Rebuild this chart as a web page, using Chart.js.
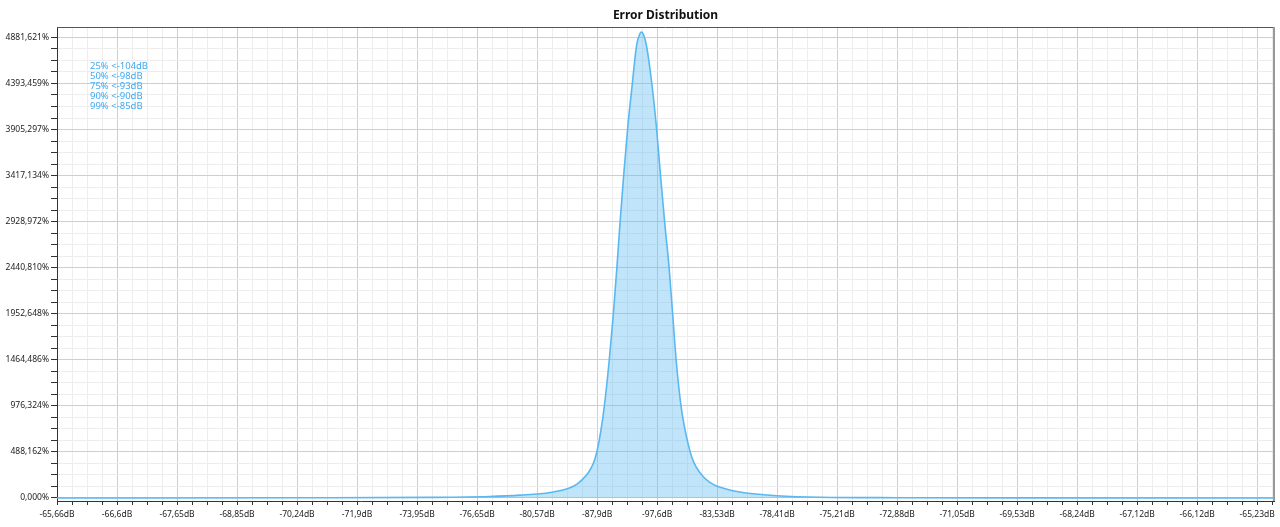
<!DOCTYPE html>
<html>
<head>
<meta charset="utf-8">
<title>Error Distribution</title>
<script src="https://cdn.jsdelivr.net/npm/chart.js@4.4.1/dist/chart.umd.min.js"></script>
<style>
  html, body { margin: 0; padding: 0; background: #fff; }
  #wrap { width: 1280px; height: 527px; position: relative; }
</style>
</head>
<body>
<div id="wrap"><canvas id="errChart"></canvas></div>
<script>
// chart text
const chartTitle = "Error Distribution";
const statLines = ["25% <-104dB", "50% <-98dB", "75% <-93dB", "90% <-90dB", "99% <-85dB"];

// x axis labels, one per major grid line (left to right)
const xTickLabels = [
  "-65,66dB", "-66,6dB", "-67,65dB", "-68,85dB", "-70,24dB", "-71,9dB",
  "-73,95dB", "-76,65dB", "-80,57dB", "-87,9dB", "-97,6dB", "-83,53dB",
  "-78,41dB", "-75,21dB", "-72,88dB", "-71,05dB", "-69,53dB", "-68,24dB",
  "-67,12dB", "-66,12dB", "-65,23dB",
];
// y axis labels, bottom to top
const yTickLabels = [
  "0,000%", "488,162%", "976,324%", "1464,486%", "1952,648%", "2440,810%",
  "2928,972%", "3417,134%", "3905,297%", "4393,459%", "4881,621%",
];

// curve: position in x-label units, value in %
const xPos = [
  0, 4, 6.22, 7.2, 7.72, 8.22, 8.55, 8.67, 8.76, 8.85, 8.94, 9.0, 9.06,
  9.12, 9.2, 9.27, 9.33, 9.38, 9.44, 9.51, 9.58, 9.66, 9.7, 9.74, 9.78,
  9.82, 9.9, 9.99, 10.06, 10.13, 10.2, 10.26, 10.32, 10.4, 10.46, 10.52,
  10.58, 10.65, 10.77, 10.88, 10.99, 11.15, 11.33, 11.6, 11.99, 12.72,
  14, 16, 20.28,
];
const errPct = [
  0, 2, 6, 15, 30, 58, 108, 150, 200, 265, 370, 500, 700,
  968, 1444, 1943, 2441, 2896, 3395, 3924, 4348, 4804, 4900, 4939, 4900,
  4804, 4454, 3924, 3395, 2896, 2441, 1943, 1444, 968, 740, 565,
  430, 330, 225, 165, 128, 95, 68, 44, 24, 8,
  3, 1, 0,
];

const fontFam = "'Noto Sans', 'Open Sans', sans-serif";
const lineBlue = "#5ab8f0";

// major y values come from the labels, 3 minor lines between each
const yMajor = yTickLabels.map((s) => parseFloat(s.replace(",", ".")));

const isMajor = (ctx) => ctx.index % 4 === 0;

// title, stats text and the top/right frame
const overlay = {
  id: "overlay",
  afterDraw(chart) {
    const { ctx, chartArea: a } = chart;
    ctx.save();
    ctx.strokeStyle = "#555";
    ctx.lineWidth = 1;
    ctx.beginPath();
    ctx.moveTo(a.left, a.top + 0.5);
    ctx.lineTo(a.right, a.top + 0.5);
    ctx.stroke();
    ctx.strokeStyle = "#999";
    ctx.lineWidth = 2;
    ctx.beginPath();
    ctx.moveTo(a.right, a.top);
    ctx.lineTo(a.right, a.bottom);
    ctx.stroke();

    ctx.fillStyle = "#111";
    ctx.font = "bold 12px " + fontFam;
    ctx.textAlign = "center";
    ctx.textBaseline = "middle";
    ctx.fillText(chartTitle, (a.left + a.right) / 2, 16);

    ctx.fillStyle = "#3fa9f0";
    ctx.font = "9.5px " + fontFam;
    ctx.textAlign = "left";
    statLines.forEach((t, i) => ctx.fillText(t, 90, 66 + i * 10));
    ctx.restore();
  },
};

new Chart(document.getElementById("errChart"), {
  type: "line",
  data: {
    datasets: [
      {
        data: xPos.map((x, i) => ({ x: x, y: errPct[i] })),
        borderColor: lineBlue,
        backgroundColor: "rgba(90, 184, 240, 0.38)",
        borderWidth: 1.6,
        fill: "origin",
        pointRadius: 0,
        cubicInterpolationMode: "monotone",
      },
    ],
  },
  options: {
    responsive: true,
    maintainAspectRatio: false,
    animation: false,
    layout: { padding: { top: 27, right: 6, left: 0, bottom: 0 } },
    plugins: {
      legend: { display: false },
      title: { display: false },
      tooltip: { enabled: false },
    },
    scales: {
      x: {
        type: "linear",
        min: 0,
        max: 20.28,
        afterBuildTicks: (scale) => {
          const t = [];
          for (let i = 0; i <= 81; i++) t.push({ value: i * 0.25 });
          scale.ticks = t;
        },
        afterFit: (scale) => {
          scale.height = 26;
        },
        border: { color: "#333", width: 1 },
        grid: {
          color: (ctx) => (isMajor(ctx) ? "#cfcfcf" : "#ededed"),
          tickColor: "#333",
          tickLength: 4,
        },
        ticks: {
          autoSkip: false,
          maxRotation: 0,
          padding: 4,
          color: "#222",
          font: { family: fontFam, size: 8.5 },
          callback: (v, i) => (i % 4 === 0 ? xTickLabels[i / 4] : ""),
        },
      },
      y: {
        min: -32,
        max: 4992,
        afterBuildTicks: (scale) => {
          const t = [];
          for (let k = 0; k < yMajor.length; k++) {
            t.push({ value: yMajor[k] });
            if (k < yMajor.length - 1) {
              const d = (yMajor[k + 1] - yMajor[k]) / 4;
              for (let m = 1; m < 4; m++) t.push({ value: yMajor[k] + d * m });
            }
          }
          scale.ticks = t;
        },
        afterFit: (scale) => {
          scale.width = 57;
        },
        border: { color: "#333", width: 1 },
        grid: {
          color: (ctx) => (isMajor(ctx) ? "#cfcfcf" : "#ededed"),
          tickColor: "#333",
          tickLength: 6,
        },
        ticks: {
          autoSkip: false,
          padding: 2,
          color: "#222",
          font: { family: fontFam, size: 8.5 },
          callback: (v, i) => (i % 4 === 0 ? yTickLabels[i / 4] : ""),
        },
      },
    },
  },
  plugins: [overlay],
});
</script>
</body>
</html>
